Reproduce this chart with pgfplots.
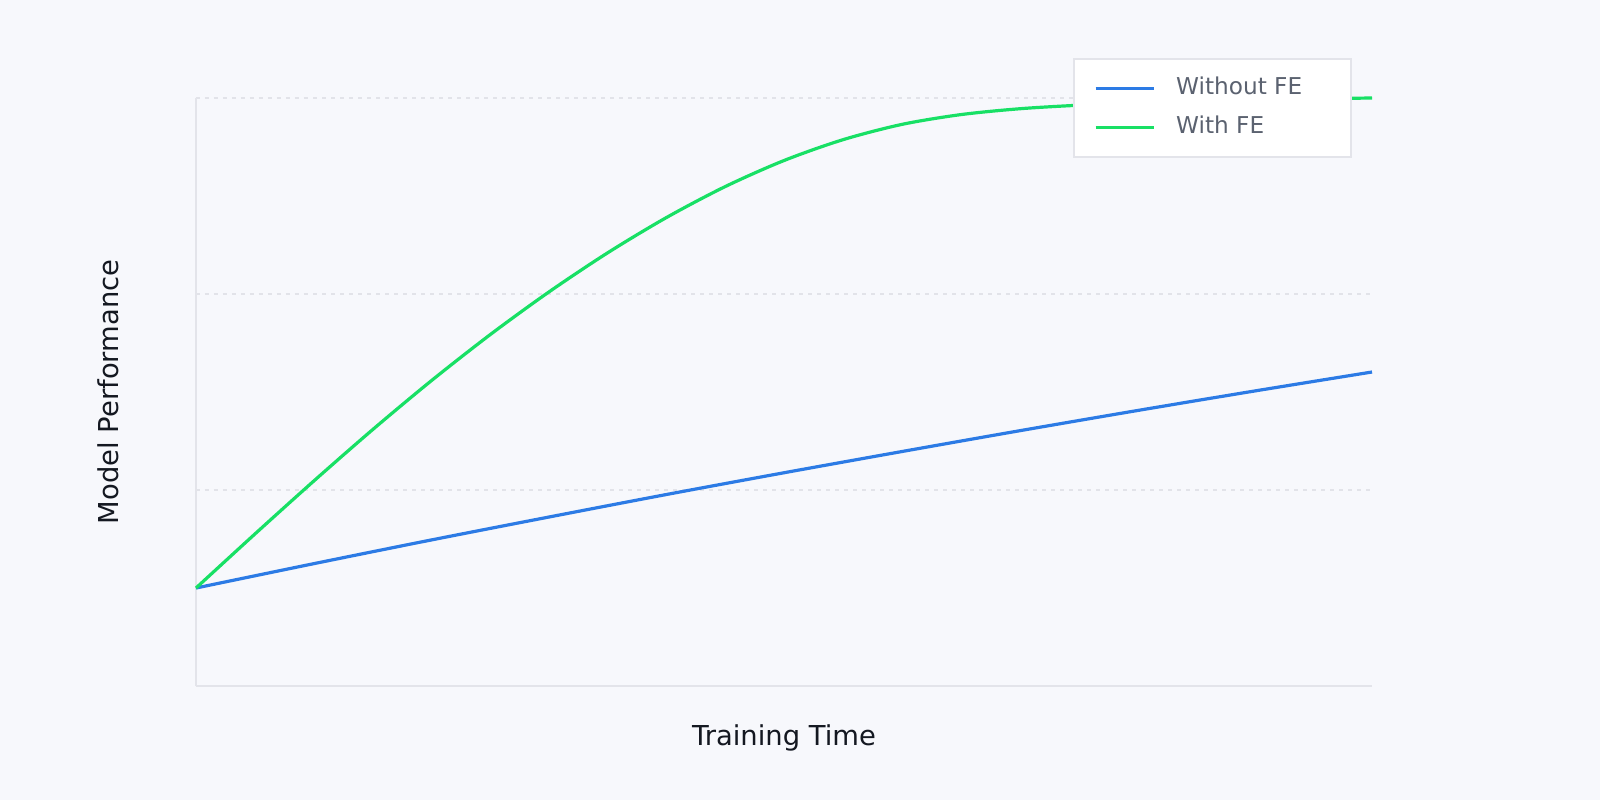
\documentclass[border=0pt]{standalone}
\usepackage{pgfplots}
\pgfplotsset{compat=1.18}
\usepackage{fontspec}
\setmainfont{DejaVu Sans}
\definecolor{bgc}{HTML}{F7F8FC}
\definecolor{gridc}{HTML}{E2E3E9}
\definecolor{axc}{HTML}{E3E4EA}
\definecolor{bluec}{HTML}{2C7BE5}
\definecolor{greenc}{HTML}{18E065}
\definecolor{legtext}{HTML}{5B6270}
\definecolor{labc}{HTML}{141821}
\begin{document}
\begin{tikzpicture}
\fill[bgc] (-98pt,-57pt) rectangle (702pt,343pt);
\begin{axis}[
  at={(0pt,0pt)}, anchor=south west,
  width=588pt, height=294pt, scale only axis,
  xmin=0, xmax=10, ymin=0, ymax=3,
  axis x line*=bottom, axis y line*=left,
  axis line style={draw=axc, line width=0.9pt},
  xtick=\empty, ytick={1,2,3}, yticklabels={},
  major tick length=0pt,
  ymajorgrids,
  grid style={draw=gridc, line width=0.7pt, dash pattern=on 2pt off 2.5pt},
  clip=false,
  xlabel={Training Time},
  ylabel={Model Performance},
  label style={font=\fontsize{13.7}{16}\selectfont, text=labc},
  xlabel style={at={(axis description cs:0.5,-0.088)}, anchor=center},
  ylabel style={at={(axis description cs:-0.0748,0.5)}, anchor=center},
  legend style={
    at={(0.983,1.068)}, anchor=north east,
    fill=white, draw=axc, line width=0.8pt,
    font=\fontsize{11.6}{13}\selectfont, text=legtext,
    nodes={inner sep=0pt, text height=8.5pt, text depth=2.5pt, anchor=west},
    row sep=8.5pt, column sep=10.5pt,
    inner xsep=10pt, inner ysep=9.25pt,
  },
  legend cell align=left,
  legend image code/.code={\draw[#1, line width=1.6pt] (0pt,0pt) -- (29pt,0pt);},
]
\addplot[bluec, line width=1.6pt, smooth] coordinates {
(0,0.500) (1,0.624) (2,0.745) (3,0.862) (4,0.977) (5,1.088) (6,1.196) (7,1.302) (8,1.405) (9,1.505) (10,1.602)
};
\addlegendentry{Without FE\hspace*{14.5pt}}
\addplot[greenc, line width=1.6pt, smooth] coordinates {
(0,0.500) (0.5,0.775) (1.0,1.045) (1.5,1.307) (2.0,1.557) (2.5,1.792) (3.0,2.010) (3.5,2.210) (4.0,2.390) (4.5,2.548) (5.0,2.681) (5.5,2.787) (6.0,2.865) (6.5,2.915) (7.0,2.945) (7.5,2.963) (8.0,2.975) (8.5,2.984) (9.0,2.991) (9.5,2.996) (10,3.000)
};
\addlegendentry{With FE}
\end{axis}
\pgfresetboundingbox
\path (-98pt,-57pt) rectangle (702pt,343pt);
\end{tikzpicture}
\end{document}
